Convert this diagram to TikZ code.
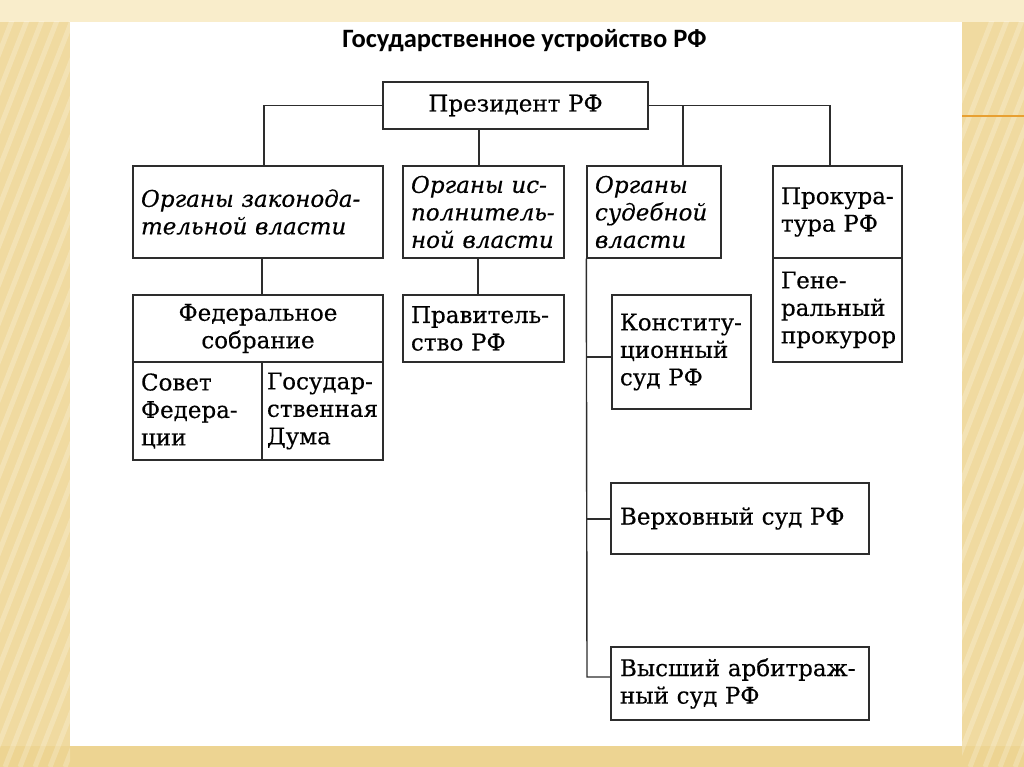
\documentclass[tikz,border=0pt]{standalone}
\usepackage{fontspec}
\setmainfont{DejaVu Serif}[FakeBold=0.4]
\newfontfamily\titlefont{Carlito}
\usetikzlibrary{calc}
\definecolor{bgc}{RGB}{240,218,160}
\definecolor{bgtop}{RGB}{249,237,203}
\definecolor{bgbot}{RGB}{237,212,146}
\definecolor{linec}{RGB}{45,45,45}
\definecolor{orangeline}{RGB}{232,160,50}
\newcommand{\boxfont}{\fontsize{23}{27.5}\selectfont}
\tikzset{
  box/.style={draw=linec, line width=1.4pt, rectangle, inner xsep=8pt, inner ysep=0pt,
    align=left, font=\boxfont, anchor=center, text=black},
  conn/.style={draw=linec, line width=1.4pt},
}
\begin{document}
\begin{tikzpicture}[x=1pt,y=-1pt]
\useasboundingbox (0,0) rectangle (1024,767);
% background
\fill[bgc] (0,0) rectangle (1024,767);
\fill[bgtop] (0,0) rectangle (1024,22);
\fill[bgbot] (0,746) rectangle (1024,767);
\begin{scope}
  \clip (0,22) rectangle (70,767);
  \foreach \i in {-400,-385,...,100} \draw[white, opacity=0.22, line width=5pt] (\i,767) -- (\i+300,0);
\end{scope}
\begin{scope}
  \clip (962,22) rectangle (1024,767);
  \foreach \i in {700,715,...,1100} \draw[white, opacity=0.22, line width=5pt] (\i,767) -- (\i+300,0);
\end{scope}
\fill[white] (70,22) rectangle (962,746);
\draw[orangeline, line width=2pt] (962,116) -- (1024,116);

% title
\node[font=\titlefont\bfseries\fontsize{26.5}{30}\selectfont, anchor=base, inner sep=0pt] (title) at (524.5,48) {Государственное устройство РФ};

% boxes
\node[box, align=center, text width=249pt, minimum height=47pt] (pres) at (515.5,105.5) {Президент РФ};
\node[box, text width=234pt, minimum height=92pt, font=\boxfont\itshape] (leg) at (258,212) {Органы законода-\\тельной власти};
\node[box, text width=145pt, minimum height=92pt, font=\boxfont\itshape] (exec) at (483.5,212) {Органы ис-\\полнитель-\\ной власти};
\node[box, text width=118pt, minimum height=92pt, font=\boxfont\itshape] (jud) at (654,212) {Органы\\судебной\\власти};
\node[box, text width=113pt, minimum height=92pt] (pros) at (837.5,212) {Прокура-\\тура РФ};
\node[box, text width=113pt, minimum height=104pt] (gen) at (837.5,310) {Гене-\\ральный\\прокурор};
\node[box, align=center, text width=234pt, minimum height=67pt] (fed) at (258,328.5) {Федеральное\\собрание};
\node[box, text width=113pt, minimum height=98pt] (sov) at (197.5,411) {Совет\\Федера-\\ции};
\node[box, inner xsep=5pt, text width=111pt, minimum height=98pt] (duma) at (322.5,411) {Государ-\\ственная\\Дума};
\node[box, text width=145pt, minimum height=67pt] (gov) at (483.5,328.5) {Правитель-\\ство РФ};
\node[box, text width=123pt, minimum height=114pt] (konst) at (681.5,352) {Конститу-\\ционный\\суд РФ};
\node[box, inner xsep=9pt, text width=240pt, minimum height=71pt] (verh) at (740,518.5) {Верховный суд РФ};
\node[box, inner xsep=9pt, text width=240pt, minimum height=73pt] (arb) at (740,683.5) {Высший арбитраж-\\ный суд РФ};

% connector helper coordinates
\coordinate (j1) at (264,105.5);
\coordinate (j2) at (479,105.5);
\coordinate (j3) at (683,105.5);
\coordinate (j4) at (830,105.5);
\coordinate (j5) at (262,0);
\coordinate (j6) at (478,0);
\coordinate (jk) at (587,357);
\coordinate (jv) at (587,519);
\coordinate (ja) at (587,677);

% connectors
\draw[conn] (pres.west) -| (leg.north -| j1);
\draw[conn] (pres.east) -| (pros.north -| j4);
\draw[conn] (j3) -- (jud.north -| j3);
\draw[conn] (pres.south -| j2) -- (exec.north -| j2);
\draw[conn] (leg.south -| j5) -- (fed.north -| j5);
\draw[conn] (exec.south -| j6) -- (gov.north -| j6);
\draw[conn] (jud.south west) -- (ja) -- (arb.west |- ja);
\draw[conn] (jk) -- (konst.west |- jk);
\draw[conn] (jv) -- (verh.west |- jv);
\end{tikzpicture}
\end{document}
